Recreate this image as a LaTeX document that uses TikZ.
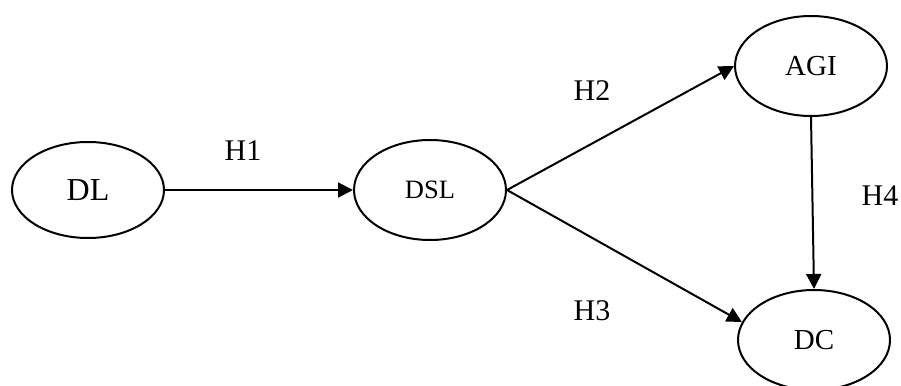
\documentclass[tikz,border=0pt]{standalone}
\usepackage{fontspec}
\setmainfont{Liberation Serif}
\usetikzlibrary{shapes.geometric,arrows.meta}

\begin{document}
\begin{tikzpicture}[x=1pt,y=-1pt,
  var/.style={draw, ellipse, line width=2pt, inner sep=0pt,
    minimum width=152pt, minimum height=100pt, font=\fontsize{29}{34}\selectfont},
  hyp/.style={font=\fontsize{30}{36}\selectfont, inner sep=0pt},
  path/.style={draw, line width=2pt, -{Triangle[length=15pt,width=15pt]}}]
\useasboundingbox (0,0) rectangle (901,385);
% constructs
\node[var, minimum height=96pt, font=\fontsize{32}{38}\selectfont] (DL) at (88,190) {DL};
\node[var, font=\fontsize{26.5}{32}\selectfont] (DSL) at (430,190) {DSL};
\node[var] (AGI) at (811,66) {AGI};
\node[var] (DC) at (814,340) {DC};
% hypotheses
\node[hyp] (h1) at (243,151) {H1};
\node[hyp] (h2) at (592,91) {H2};
\node[hyp] (h3) at (592,311) {H3};
\node[hyp] (h4) at (880,196) {H4};
% paths
\draw[path] (DL.east) -- (DSL.west);
\draw[path] (DSL.east) -- (AGI.west);
\draw[path] (DSL.east) -- (DC.166);
\draw[path] (AGI.south) -- (DC.north);
\end{tikzpicture}
\end{document}
